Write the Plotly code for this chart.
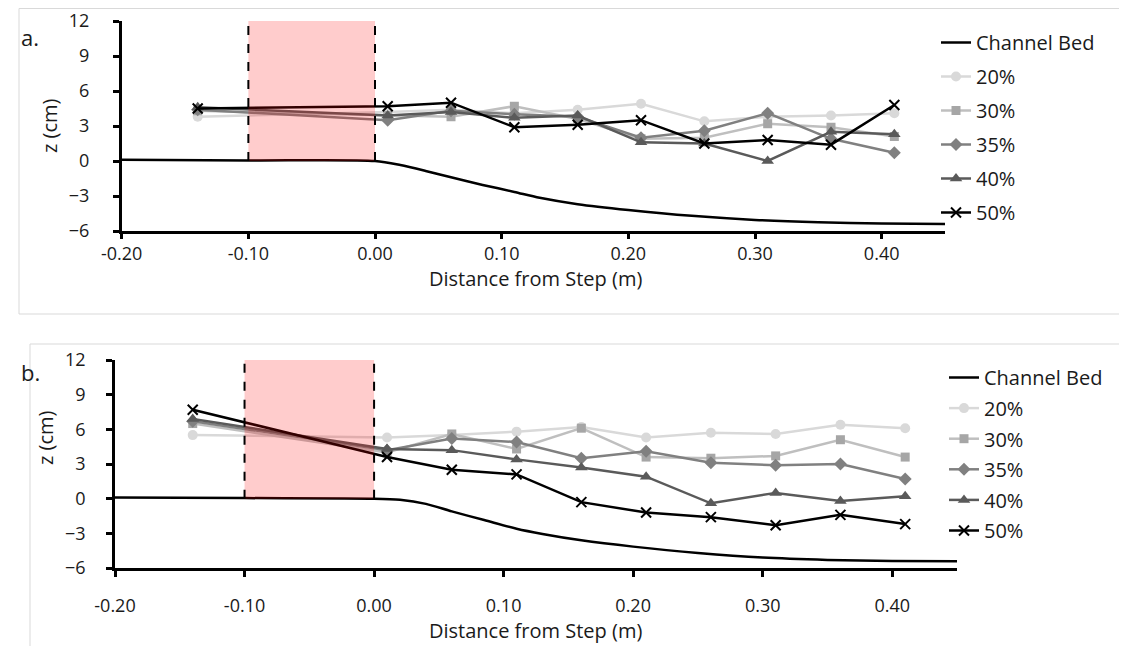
import plotly.graph_objects as go

# Page body adds an 8px margin, so the figure is sized to fit the window exactly.
OFF = 8
W, H = 1127 - 2 * OFF, 654 - 2 * OFF

x_pts = [-0.14, 0.01, 0.06, 0.11, 0.16, 0.21, 0.26, 0.31, 0.36, 0.41]
series_names = ["20%", "30%", "35%", "40%", "50%"]

# Panel a values (cm)
a20 = [3.8, 4.2, 4.4, 4.1, 4.4, 4.9, 3.4, 3.8, 3.9, 4.1]
a30 = [4.3, 3.9, 3.8, 4.7, 3.6, 1.9, 2.0, 3.2, 2.9, 2.1]
a35 = [4.4, 3.5, 4.3, 4.0, 3.8, 2.0, 2.6, 4.1, 1.9, 0.7]
a40 = [4.6, 3.9, 4.2, 3.7, 3.9, 1.6, 1.5, 0.0, 2.5, 2.3]
a50 = [4.5, 4.7, 5.0, 2.9, 3.1, 3.5, 1.5, 1.8, 1.4, 4.8]

# Panel b values (cm)
b20 = [5.5, 5.3, 5.5, 5.8, 6.2, 5.3, 5.7, 5.6, 6.4, 6.1]
b30 = [6.5, 4.0, 5.6, 4.3, 6.1, 3.6, 3.5, 3.7, 5.1, 3.6]
b35 = [6.7, 4.2, 5.2, 4.9, 3.5, 4.1, 3.1, 2.9, 3.0, 1.7]
b40 = [6.9, 4.3, 4.2, 3.4, 2.7, 1.9, -0.4, 0.5, -0.2, 0.2]
b50 = [7.7, 3.6, 2.5, 2.1, -0.3, -1.2, -1.6, -2.3, -1.4, -2.2]

# Channel bed profile
bed_x = [-0.20, -0.10, 0.00, 0.02, 0.04, 0.06, 0.085, 0.11, 0.13, 0.16, 0.20, 0.25, 0.30, 0.35, 0.40, 0.45]
bed_a = [0.10, 0.05, 0.00, -0.35, -0.85, -1.40, -2.05, -2.65, -3.15, -3.70, -4.20, -4.70, -5.05, -5.25, -5.35, -5.40]
bed_b = [0.10, 0.05, 0.00, -0.10, -0.45, -1.10, -1.85, -2.60, -3.05, -3.60, -4.15, -4.70, -5.10, -5.30, -5.40, -5.42]

y_ticks = [12, 9, 6, 3, 0, -3, -6]
x_ticks = [-0.20, -0.10, 0.00, 0.10, 0.20, 0.30, 0.40]
x_tick_text = ["-0.20", "-0.10", "0.00", "0.10", "0.20", "0.30", "0.40"]

line_colors = ["#D9D9D9", "#BFBFBF", "#808080", "#5A5A5A", "#000000"]
marker_colors = ["#D9D9D9", "#A6A6A6", "#808080", "#5A5A5A", "#000000"]
symbols = ["circle", "square", "diamond", "triangle-up", "x-thin"]
msizes = [10, 9, 10, 11, 10]

FONT = "Open Sans"
FS = 18
TS = 20
TXT = "#1a1a1a"


def px(v):
    return (v - OFF) / W


def py(v):
    return 1 - (v - OFF) / H


fig = go.Figure()

panels = [
    dict(xa="x", ya="y", leg="legend", data=[a20, a30, a35, a40, a50], bed=bed_a),
    dict(xa="x2", ya="y2", leg="legend2", data=[b20, b30, b35, b40, b50], bed=bed_b),
]

for p in panels:
    fig.add_trace(go.Scatter(
        x=bed_x, y=p["bed"], mode="lines", name="Channel Bed",
        line=dict(color="black", width=2.5, shape="spline", smoothing=0.8),
        xaxis=p["xa"], yaxis=p["ya"], legend=p["leg"], legendgroup="bed" + p["leg"],
    ))
    for i, name in enumerate(series_names):
        if symbols[i] == "x-thin":
            mk = dict(symbol="x-thin", size=msizes[i], line=dict(width=2, color="black"), color="black")
        else:
            mk = dict(symbol=symbols[i], size=msizes[i], color=marker_colors[i], line=dict(width=0))
        fig.add_trace(go.Scatter(
            x=x_pts, y=p["data"][i], mode="lines+markers", name=name,
            line=dict(color=line_colors[i], width=2.5), marker=mk,
            xaxis=p["xa"], yaxis=p["ya"], legend=p["leg"], legendgroup=name + p["leg"],
        ))


def axis_style(ticklen=6, standoff=0):
    return dict(
        showline=True, linecolor="black", linewidth=2.5, showgrid=False, zeroline=False,
        ticks="outside", ticklen=ticklen, tickwidth=2.5, tickcolor="black", automargin=False,
        ticklabelstandoff=standoff, tickfont=dict(family=FONT, size=FS, color=TXT),
    )


fig.update_layout(
    width=W, height=H, margin=dict(l=0, r=0, t=0, b=0, pad=0, autoexpand=False),
    paper_bgcolor="white", plot_bgcolor="white",
    font=dict(family=FONT, size=FS, color=TXT),
    xaxis=dict(domain=[px(121.7), px(945)], range=[-0.2, 0.45], anchor="y",
               tickvals=x_ticks, ticktext=x_tick_text, **axis_style(5, 0)),
    yaxis=dict(domain=[py(231), py(21)], range=[-6, 12], anchor="x",
               tickvals=y_ticks, **axis_style(6, 20)),
    xaxis2=dict(domain=[px(115), px(957)], range=[-0.2, 0.45], anchor="y2",
                tickvals=x_ticks, ticktext=x_tick_text, **axis_style(6, 14)),
    yaxis2=dict(domain=[py(568), py(360)], range=[-6, 12], anchor="x2",
                tickvals=y_ticks, **axis_style(6, 17)),
    legend=dict(x=px(936), y=py(23), xanchor="left", yanchor="top",
                font=dict(family=FONT, size=20, color=TXT), tracegroupgap=5,
                bgcolor="rgba(0,0,0,0)"),
    legend2=dict(x=px(944), y=py(358), xanchor="left", yanchor="top",
                 font=dict(family=FONT, size=20, color=TXT), tracegroupgap=1.6,
                 bgcolor="rgba(0,0,0,0)"),
    showlegend=True,
)

shapes = []
FRAME = dict(color="#D9D9D9", width=1)
RIGHT = 1127 - OFF
for x0, y0, x1, y1 in [(19, 8.5, RIGHT, 8.5), (19, 8.5, 19, 314), (19, 314, RIGHT, 314),
                       (30, 344, RIGHT, 344), (30, 344, 30, 654)]:
    shapes.append(dict(type="line", xref="paper", yref="paper", x0=px(x0), x1=px(x1),
                       y0=py(y0), y1=py(y1), line=FRAME, layer="below"))
for xa, ya in [("x", "y"), ("x2", "y2")]:
    shapes.append(dict(type="rect", xref=xa, yref=ya, x0=-0.1, x1=0.0, y0=0, y1=12,
                       fillcolor="red", opacity=0.2, line=dict(width=0), layer="above"))
    for xv in [-0.1, 0.0]:
        shapes.append(dict(type="line", xref=xa, yref=ya, x0=xv, x1=xv, y0=0, y1=12,
                           line=dict(color="black", width=2, dash="dash"), layer="above"))
fig.update_layout(shapes=shapes)


def note(text, x, y, size, angle=0):
    return dict(text=text, x=px(x), y=py(y), xref="paper", yref="paper", showarrow=False,
                xanchor="center", yanchor="middle", textangle=angle,
                font=dict(family=FONT, size=size, color=TXT))


ann = [
    note("a.", 30, 37, 22),
    note("b.", 30, 372, 22),
    note("z (cm)", 50, 126, TS, -90),
    note("z (cm)", 45, 438, TS, -90),
    note("Distance from Step (m)", 535, 278, TS),
    note("Distance from Step (m)", 535, 630, TS),
]
fig.update_layout(annotations=ann)

fig.write_html("out.html")
